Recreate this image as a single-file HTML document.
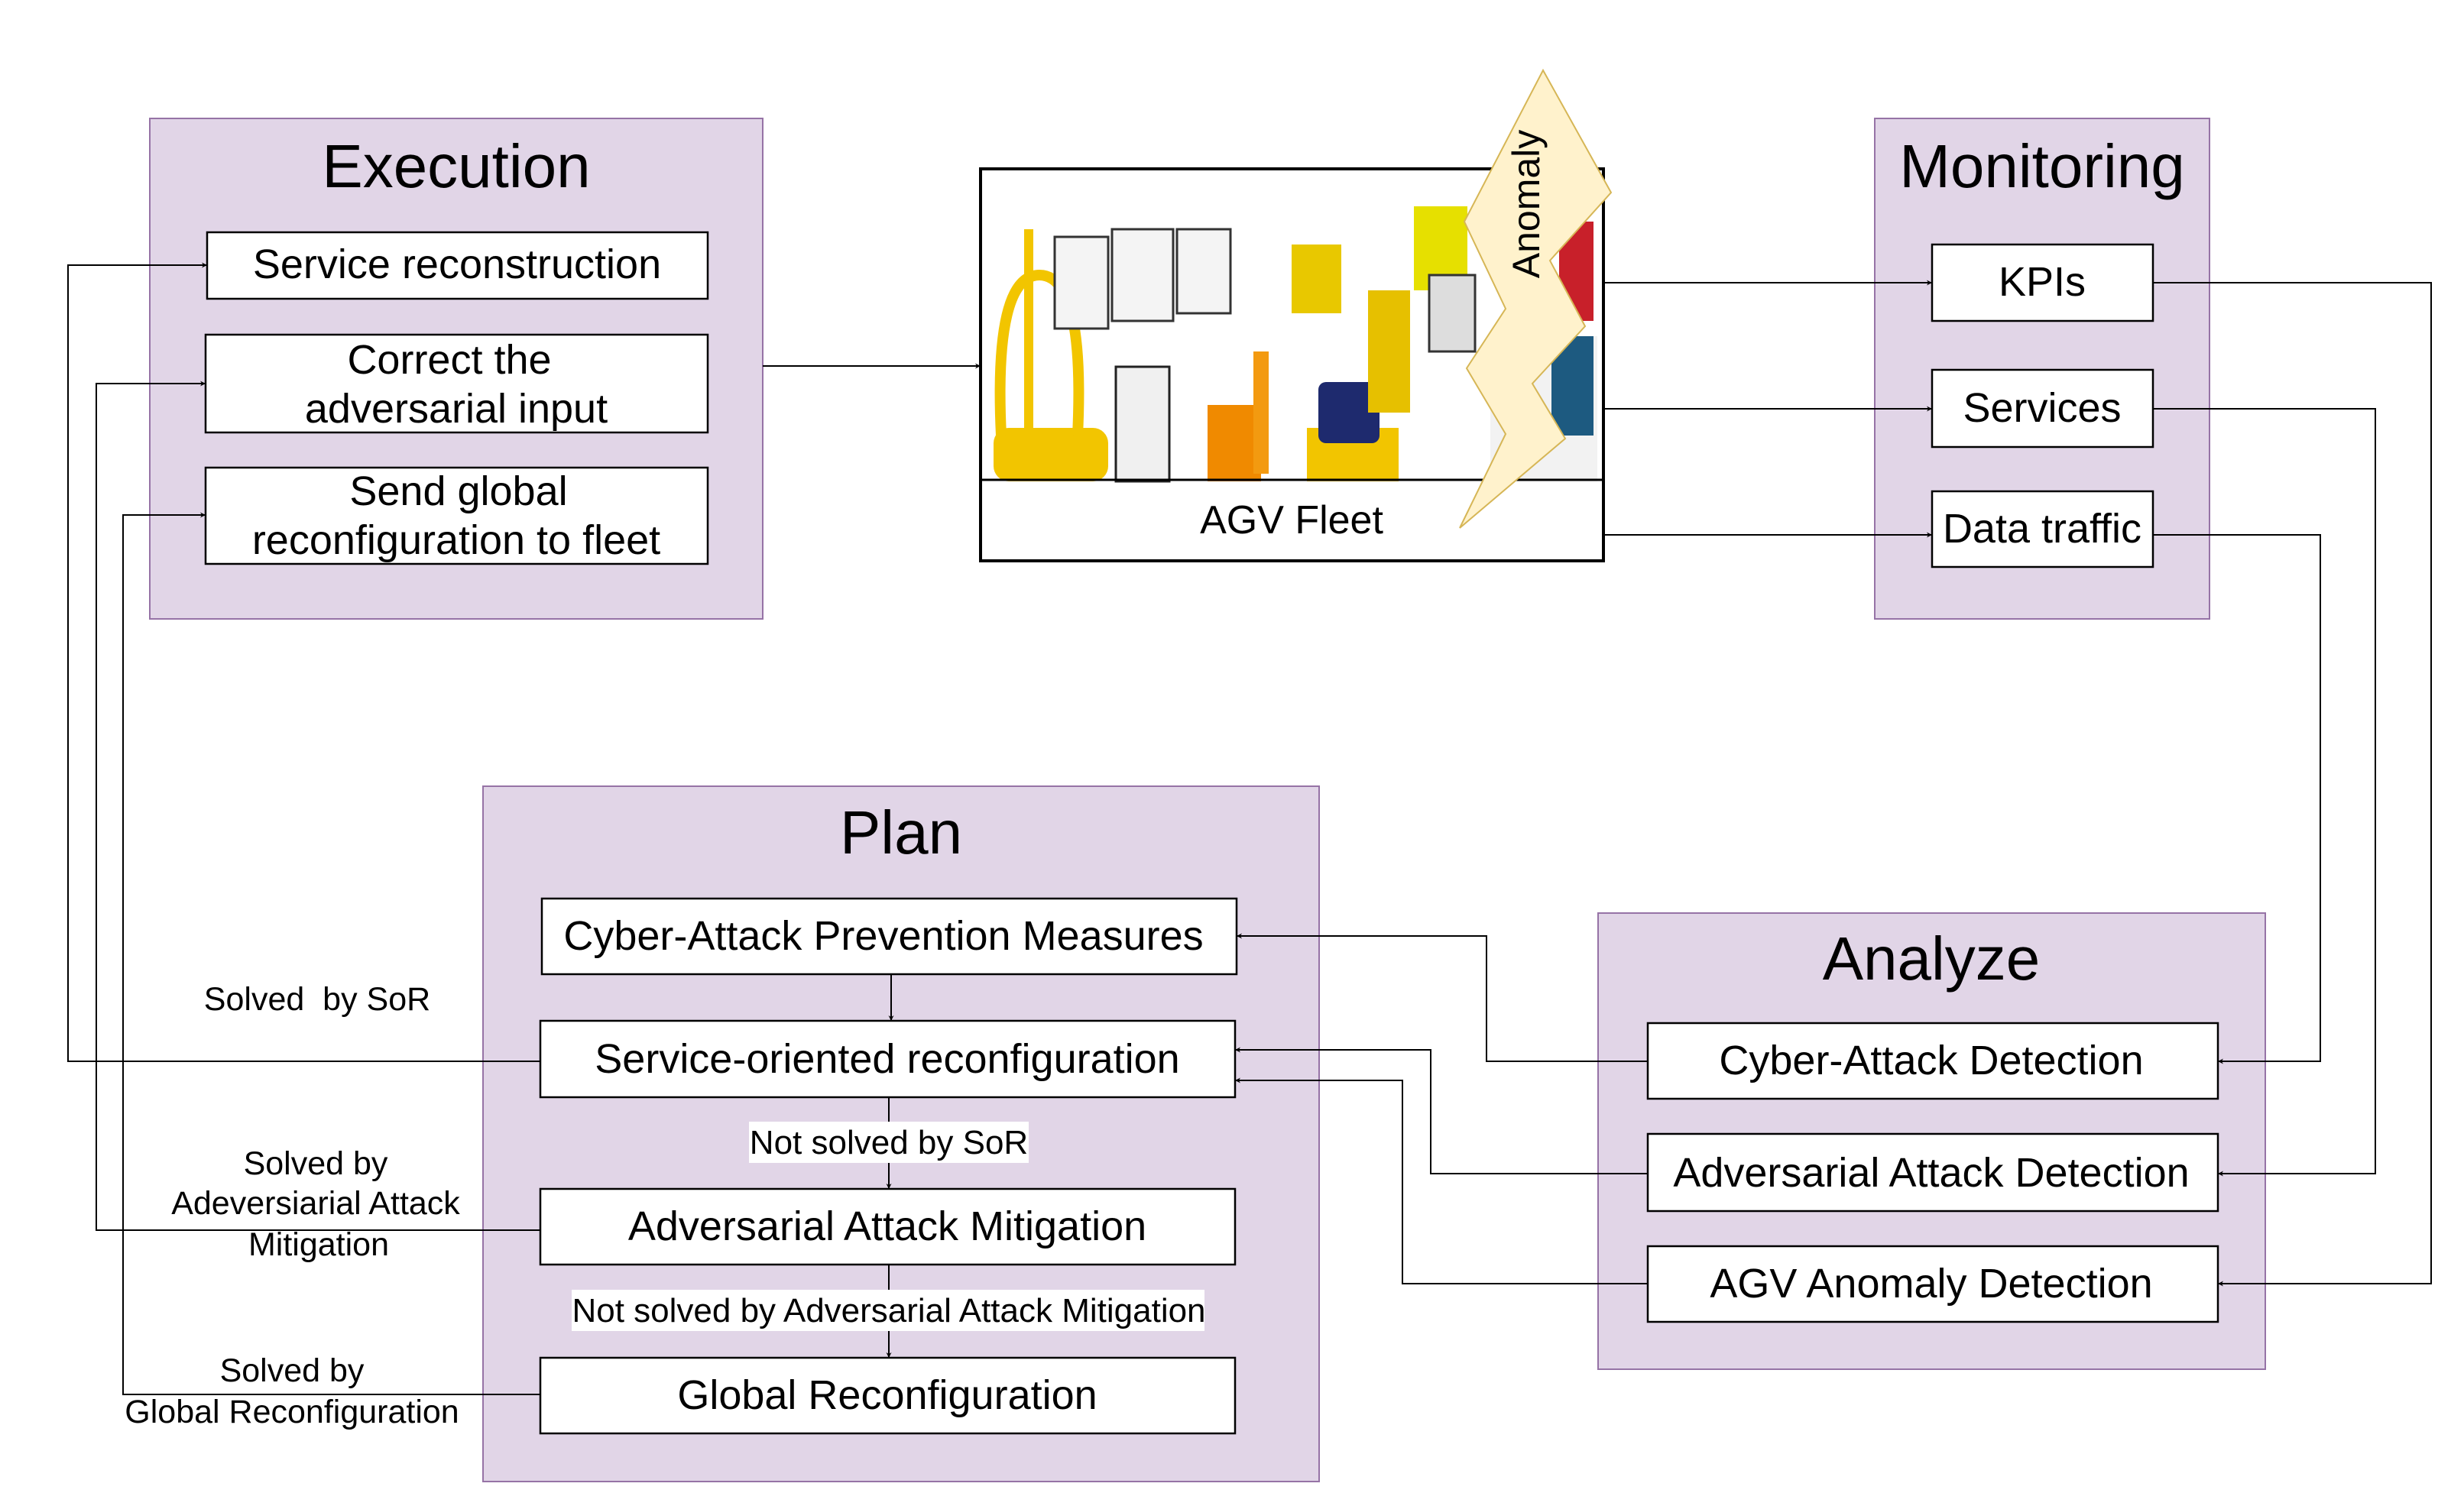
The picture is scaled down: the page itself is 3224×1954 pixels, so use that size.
<!DOCTYPE html>
<html><head><meta charset="utf-8"><style>
html,body{margin:0;padding:0;background:#fff;}
svg{display:block;}
text{font-family:"Liberation Sans",Arial,sans-serif;fill:#000;}
</style></head><body>
<svg width="3224" height="1954" viewBox="0 0 3224 1954" xmlns="http://www.w3.org/2000/svg">
<defs>
<marker id="a" viewBox="0 0 10 10" refX="10" refY="5" markerWidth="7" markerHeight="7" markerUnits="userSpaceOnUse" orient="auto"><path d="M0,0 L10,5 L0,10 L3,5 z" fill="#000"/></marker>
</defs>
<g fill="#e1d5e7" stroke="#9673a6" stroke-width="2">
<rect x="196" y="155" width="802" height="655"/>
<rect x="2453" y="155" width="438" height="655"/>
<rect x="632" y="1029" width="1094" height="910"/>
<rect x="2091" y="1195" width="873" height="597"/>
</g>
<g font-size="80" text-anchor="middle">
<text x="597" y="245">Execution</text>
<text x="2672" y="245">Monitoring</text>
<text x="1179" y="1117">Plan</text>
<text x="2527" y="1282">Analyze</text>
</g>
<rect x="1283" y="221" width="815" height="513" fill="#fff" stroke="#000" stroke-width="4"/>
<g>
<rect x="1300" y="560" width="150" height="70" rx="20" fill="#f2c500"/>
<rect x="1340" y="300" width="12" height="270" fill="#f2c500"/>
<path d="M1310 570 Q1300 360 1360 360 Q1420 360 1410 570" fill="none" stroke="#f2c500" stroke-width="14"/>
<rect x="1380" y="310" width="70" height="120" fill="#f4f4f4" stroke="#333" stroke-width="3"/>
<rect x="1455" y="300" width="80" height="120" fill="#f4f4f4" stroke="#333" stroke-width="3"/>
<rect x="1540" y="300" width="70" height="110" fill="#f4f4f4" stroke="#333" stroke-width="3"/>
<rect x="1690" y="320" width="65" height="90" fill="#e8c800"/>
<rect x="1460" y="480" width="70" height="150" fill="#f0f0f0" stroke="#222" stroke-width="3"/>
<rect x="1580" y="530" width="70" height="100" fill="#f08a00"/>
<rect x="1640" y="460" width="20" height="160" fill="#f39a10"/>
<rect x="1710" y="560" width="120" height="70" fill="#f2c500"/>
<rect x="1725" y="500" width="80" height="80" rx="10" fill="#1e2a6e"/>
<rect x="1790" y="380" width="55" height="160" fill="#e6c000"/>
<rect x="1850" y="270" width="70" height="110" fill="#e6e000"/>
<rect x="1870" y="360" width="60" height="100" fill="#ddd" stroke="#333" stroke-width="3"/>
<rect x="1950" y="440" width="140" height="190" fill="#f2f2f2"/>
<rect x="2030" y="440" width="55" height="130" fill="#1d5a80"/>
<rect x="2040" y="290" width="45" height="130" fill="#c8202a"/>
</g>
<line x1="1283" y1="628" x2="2098" y2="628" stroke="#000" stroke-width="3"/>
<text x="1690" y="698" font-size="52" text-anchor="middle">AGV Fleet</text>
<polygon points="2019,92 2108,252 2028,341 2074,427 2005,502 2048,574 1910,691 1970,568 1919,482 1970,404 1916,290" fill="#fff2cc" stroke="#d6b656" stroke-width="2"/>
<text transform="translate(2014,267) rotate(-90)" font-size="50" text-anchor="middle">Anomaly</text>
<g fill="#fff" stroke="#000" stroke-width="2.5">
<rect x="271" y="304" width="655" height="87"/>
<rect x="269" y="438" width="657" height="128"/>
<rect x="269" y="612" width="657" height="126"/>
<rect x="2528" y="320" width="289" height="100"/>
<rect x="2528" y="484" width="289" height="101"/>
<rect x="2528" y="643" width="289" height="99"/>
<rect x="709" y="1176" width="909" height="99"/>
<rect x="707" y="1336" width="909" height="100"/>
<rect x="707" y="1556" width="909" height="99"/>
<rect x="707" y="1777" width="909" height="99"/>
<rect x="2156" y="1339" width="746" height="99"/>
<rect x="2156" y="1484" width="746" height="101"/>
<rect x="2156" y="1631" width="746" height="99"/>
</g>
<g font-size="54" text-anchor="middle">
<text x="598" y="364">Service reconstruction</text>
<text x="588" y="489">Correct the</text>
<text x="597" y="553">adversarial input</text>
<text x="600" y="661">Send global</text>
<text x="597" y="725">reconfiguration to fleet</text>
<text x="2672" y="387">KPIs</text>
<text x="2672" y="552">Services</text>
<text x="2672" y="710">Data traffic</text>
<text x="1156" y="1243">Cyber-Attack Prevention Measures</text>
<text x="1161" y="1404">Service-oriented reconfiguration</text>
<text x="1161" y="1623">Adversarial Attack Mitigation</text>
<text x="1161" y="1844">Global Reconfiguration</text>
<text x="2527" y="1406">Cyber-Attack Detection</text>
<text x="2527" y="1553">Adversarial Attack Detection</text>
<text x="2527" y="1698">AGV Anomaly Detection</text>
</g>
<g fill="none" stroke="#000" stroke-width="2" marker-end="url(#a)">
<line x1="998" y1="479" x2="1283" y2="479"/>
<line x1="2098" y1="370" x2="2528" y2="370"/>
<line x1="2098" y1="535" x2="2528" y2="535"/>
<line x1="2098" y1="700" x2="2528" y2="700"/>
<polyline points="2817,370 3181,370 3181,1680 2902,1680"/>
<polyline points="2817,535 3108,535 3108,1536 2902,1536"/>
<polyline points="2817,700 3036,700 3036,1389 2902,1389"/>
<polyline points="2156,1389 1945,1389 1945,1225 1618,1225"/>
<polyline points="2156,1536 1872,1536 1872,1374 1616,1374"/>
<polyline points="2156,1680 1835,1680 1835,1414 1616,1414"/>
<polyline points="707,1389 89,1389 89,347 271,347"/>
<polyline points="707,1610 126,1610 126,502 269,502"/>
<polyline points="707,1825 161,1825 161,674 269,674"/>
<line x1="1166" y1="1275" x2="1166" y2="1336"/>
<line x1="1163" y1="1436" x2="1163" y2="1556"/>
<line x1="1163" y1="1655" x2="1163" y2="1777"/>
</g>
<rect x="980" y="1468" width="366" height="54" fill="#fff"/>
<text x="1163" y="1510" font-size="44" text-anchor="middle">Not solved by SoR</text>
<rect x="748" y="1688" width="828" height="54" fill="#fff"/>
<text x="1163" y="1730" font-size="44" text-anchor="middle">Not solved by Adversarial Attack Mitigation</text>
<g font-size="43" text-anchor="middle">
<text x="415" y="1322" xml:space="preserve">Solved  by SoR</text>
<text x="413" y="1537">Solved by</text>
<text x="413" y="1589">Adeversiarial Attack</text>
<text x="417" y="1643">Mitigation</text>
<text x="382" y="1808">Solved by</text>
<text x="382" y="1862">Global Reconfiguration</text>
</g>
</svg>
</body></html>
